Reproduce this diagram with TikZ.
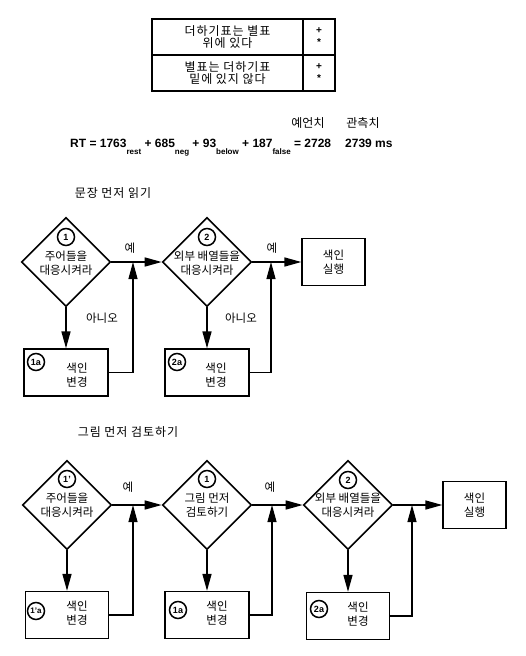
\documentclass[tikz,border=0pt]{standalone}
\usepackage{fontspec}
\setmainfont{Liberation Sans}
\newfontfamily\kr{Noto Sans CJK KR}
\newfontfamily\krwide[LetterSpace=8.0]{Noto Sans CJK KR}
\usetikzlibrary{arrows.meta,shapes.geometric}
\newcommand{\lowsub}[1]{\raisebox{-7.5pt}{\fontsize{8}{8}\selectfont #1}}

\begin{document}
\begin{tikzpicture}[x=1pt,y=-1pt,>={Triangle[length=17pt,width=9pt]},
  every node/.style={font=\kr\fontsize{11.5}{14.5}\selectfont,align=center,inner sep=0pt},
  dec/.style={draw,diamond,line width=1.6pt,minimum width=89pt,minimum height=89pt},
  box/.style={draw,rectangle,line width=1.3pt,minimum width=84pt,minimum height=47pt},
  runbox/.style={draw,rectangle,line width=1.3pt,minimum width=63pt,minimum height=47pt},
  num/.style={draw,circle,line width=1.5pt,minimum size=17pt,font=\bfseries\fontsize{9}{9}\selectfont},
  cell/.style={draw,rectangle,line width=1.3pt,minimum height=36pt},
  sign/.style={cell,minimum width=32pt,font=\bfseries\fontsize{10}{12}\selectfont},
  flow/.style={->,line width=1.5pt},
  back/.style={->,line width=1.1pt}]
\useasboundingbox (0,0) rectangle (526,656);
\node[cell,minimum width=151pt,font=\krwide\fontsize{12}{12.5}\selectfont] (t1) at (227.5,37) {더하기표는 별표\\위에 있다};
\node[sign] (s1) at (319,37) {+\\*};
\node[cell,minimum width=151pt,font=\krwide\fontsize{12}{12.5}\selectfont] (t2) at (227.5,73) {별표는 더하기표\\밑에 있지 않다};
\node[sign] (s2) at (319,73) {+\\*};
\node[font=\kr\fontsize{12}{12}\selectfont] (pred) at (308,123) {예언치};
\node[font=\kr\fontsize{12}{12}\selectfont] (meas) at (363,123) {관측치};
\node[anchor=base west,font=\bfseries\fontsize{12}{12}\selectfont] (eq) at (70,147) {RT = 1763\lowsub{rest} + 685\lowsub{neg} + 93\lowsub{below} + 187\lowsub{false} = 2728};
\node[anchor=base west,font=\bfseries\fontsize{12}{12}\selectfont] (obs) at (345,147) {2739 ms};

\node[font=\krwide\fontsize{12}{12}\selectfont] (title1) at (113,193) {문장 먼저 읽기};
\node[dec] (d1) at (66,262) {};
\node[num] (d1n) at (66,237) {1};
\node (d1t) at (66,263) {주어들을\\대응시켜라};
\node[dec] (d2) at (207,262) {};
\node[num] (d2n) at (207,237) {2};
\node (d2t) at (207,263) {외부 배열들을\\대응시켜라};
\node[runbox] (r1) at (333.5,262) {색인\\실행};
\node[box] (b1) at (66,372.5) {};
\node[num] (b1n) at (36,362) {1a};
\node (b1t) at (77,375) {색인\\변경};
\node[box] (b2) at (207,372.5) {};
\node[num] (b2n) at (177,362) {2a};
\node (b2t) at (216,375) {색인\\변경};
\coordinate (j1) at (133,262);
\coordinate (j2) at (271,262);
\draw[flow] (d1) -- (d2);
\draw[flow] (d2) -- (r1);
\draw[flow] (d1) -- (b1);
\draw[flow] (d2) -- (b2);
\draw[back] (b1.east) -| (j1);
\draw[back] (b2.east) -| (j2);
\node (yes1) at (130,248) {예};
\node (yes2) at (272,248) {예};
\node (no1) at (102,318) {아니오};
\node (no2) at (241,318) {아니오};

\node[font=\krwide\fontsize{12}{12}\selectfont] (title2) at (128,432) {그림 먼저 검토하기};
\node[dec] (e1) at (67,505) {};
\node[num] (e1n) at (67,479) {1'};
\node (e1t) at (67,505) {주어들을\\대응시켜라};
\node[dec] (e2) at (207,505) {};
\node[num] (e2n) at (207,479) {1};
\node (e2t) at (207,505) {그림 먼저\\검토하기};
\node[dec] (e3) at (348,505) {};
\node[num] (e3n) at (348,480) {2};
\node (e3t) at (348,505) {외부 배열들을\\대응시켜라};
\node[runbox] (r2) at (474.5,505) {색인\\실행};
\node[box,minimum width=83pt] (c1) at (67,615) {};
\node[num,font=\bfseries\fontsize{8}{8}\selectfont] (c1n) at (36,611) {1'a};
\node (c1t) at (77,613) {색인\\변경};
\node[box] (c2) at (207,615) {};
\node[num] (c2n) at (178,610) {1a};
\node (c2t) at (217,613) {색인\\변경};
\node[box,minimum width=83pt] (c3) at (348,616) {};
\node[num] (c3n) at (319,609) {2a};
\node (c3t) at (358,614) {색인\\변경};
\coordinate (k1) at (133,505);
\coordinate (k2) at (272,505);
\coordinate (k3) at (412,505);
\draw[flow] (e1) -- (e2);
\draw[flow] (e2) -- (e3);
\draw[flow] (e3) -- (r2);
\draw[flow] (e1) -- (c1);
\draw[flow] (e2) -- (c2);
\draw[flow] (e3) -- (c3);
\draw[back] (c1.east) -| (k1);
\draw[back] (c2.east) -| (k2);
\draw[back] (c3.east) -| (k3);
\node (yes3) at (128,487) {예};
\node (yes4) at (270,487) {예};
\end{tikzpicture}
\end{document}
